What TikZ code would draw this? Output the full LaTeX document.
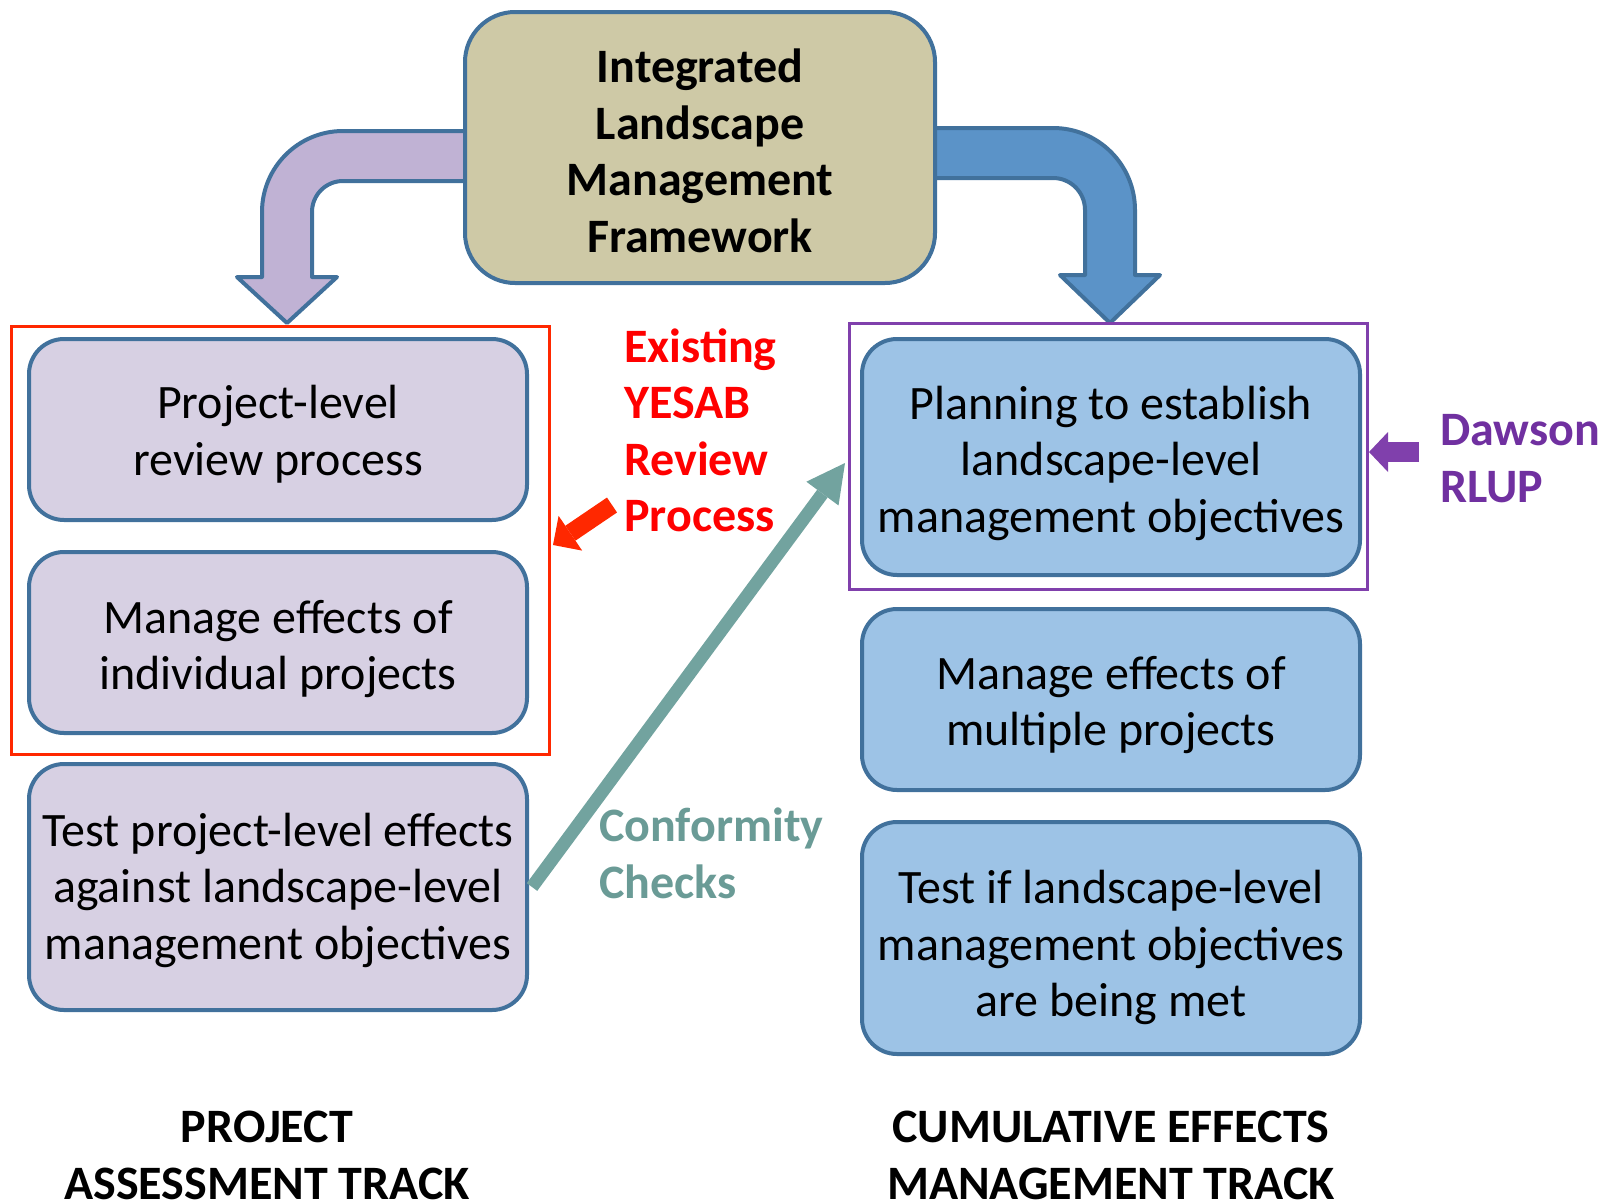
\documentclass[tikz,border=0pt]{standalone}
\usepackage{fontspec}
\setmainfont{Carlito}
\usetikzlibrary{arrows.meta}
\definecolor{bordc}{RGB}{65,113,156}
\definecolor{tanfill}{RGB}{206,201,166}
\definecolor{lavfill}{RGB}{215,208,227}
\definecolor{lavarrow}{RGB}{192,178,212}
\definecolor{bluefill}{RGB}{157,195,230}
\definecolor{bluearrow}{RGB}{91,147,200}
\definecolor{framered}{RGB}{255,40,0}
\definecolor{framepurple}{RGB}{128,64,172}
\definecolor{textpurple}{RGB}{112,48,160}
\definecolor{tealc}{RGB}{114,163,159}
\definecolor{tealtext}{RGB}{106,155,150}
\tikzset{
  bigfont/.style={font=\fontsize{48}{56.5}\selectfont},
  boldfont/.style={font=\fontsize{48}{56.5}\selectfont\bfseries},
  box/.style={draw=bordc, line width=4pt, rounded corners=35pt, inner sep=0pt, minimum width=498pt},
  lbox/.style={box, fill=lavfill},
  rbox/.style={box, fill=bluefill},
  txt/.style={bigfont, align=center, inner sep=0pt},
  frame/.style={line width=3pt, inner sep=0pt},
  bentarrow/.style={draw=bordc, line width=4pt, line join=round},
}
\begin{document}
\begin{tikzpicture}[x=1pt,y=-1pt]
\useasboundingbox (0,0) rectangle (1600,1202);

% curved arrows
\path[bentarrow, fill=lavarrow] (480,131) -- (343,131) arc[start angle=-90, end angle=-180, radius=81]
  -- (262,277) -- (237,277) -- (287,323) -- (337,277) -- (312,277) -- (312,212)
  arc[start angle=180, end angle=270, radius=31] -- (480,181) -- cycle;
\path[bentarrow, fill=bluearrow] (920,128) -- (1053,128) arc[start angle=-90, end angle=0, radius=82]
  -- (1135,275) -- (1160,275) -- (1110,323) -- (1060,275) -- (1085,275) -- (1085,210)
  arc[start angle=0, end angle=-90, radius=32] -- (920,178) -- cycle;

% top box
\node[box, fill=tanfill, rounded corners=50pt, minimum width=470pt, minimum height=271pt] (ilmf) at (700,147.5) {};
\node[txt, boldfont] (ilmft) at (700,151) {Integrated\\Landscape\\Management\\Framework};

% frames
\node[frame, draw=framered, minimum width=538pt, minimum height=428pt] (rframe) at (280,540) {};
\node[frame, draw=framepurple, minimum width=518pt, minimum height=266pt] (pframe) at (1108,456) {};

% left boxes
\node[lbox, minimum height=181pt] (p1) at (278,429.5) {};
\node[txt] (p1t) at (278,434) {Project-level\\review process};
\node[lbox, minimum height=181pt] (p2) at (278,642.5) {};
\node[txt] (p2t) at (278,649) {Manage effects of\\individual projects};
\node[lbox, minimum height=246pt] (p3) at (278,887) {};
\node[txt] (p3t) at (278,890) {Test project-level effects\\against landscape-level\\management objectives};

% right boxes
\node[rbox, minimum height=236pt] (q1) at (1111,457) {};
\node[txt] (q1t) at (1111,463) {Planning to establish\\landscape-level\\management objectives};
\node[rbox, minimum height=181pt] (q2) at (1111,699.5) {};
\node[txt] (q2t) at (1111,705) {Manage effects of\\multiple projects};
\node[rbox, minimum height=232pt] (q3) at (1111,938) {};
\node[txt] (q3t) at (1111,947.5) {Test if landscape-level\\management objectives\\are being met};

% labels
\node[txt, boldfont, align=left, anchor=west, text=red] (yesab) at (624,430.5) {Existing\\YESAB\\Review\\Process};
\node[txt, boldfont, align=left, anchor=west, text=textpurple] (dawson) at (1440,458.5) {Dawson\\RLUP};
\node[txt, boldfont, align=left, anchor=west, text=tealtext] (conf) at (599,853.5) {Conformity\\Checks};
\node[txt, boldfont] (pat) at (267,1155.5) {PROJECT\\ASSESSMENT TRACK};
\node[txt, boldfont] (cemt) at (1111,1155.5) {CUMULATIVE EFFECTS\\MANAGEMENT TRACK};

% straight arrows
\draw[draw=framered, line width=18pt, -{Triangle[width=42pt,length=21pt,line width=0pt]}] (612,505) -- (553,545);
\draw[draw=framepurple, line width=20pt, -{Triangle[width=40pt,length=19pt,line width=0pt]}] (1419,452) -- (1369,452);
\draw[draw=tealc, line width=13pt, -{Triangle[width=40pt,length=38pt,line width=0pt]}] ([xshift=3pt]p3.east) -- (845,463);
\end{tikzpicture}
\end{document}
